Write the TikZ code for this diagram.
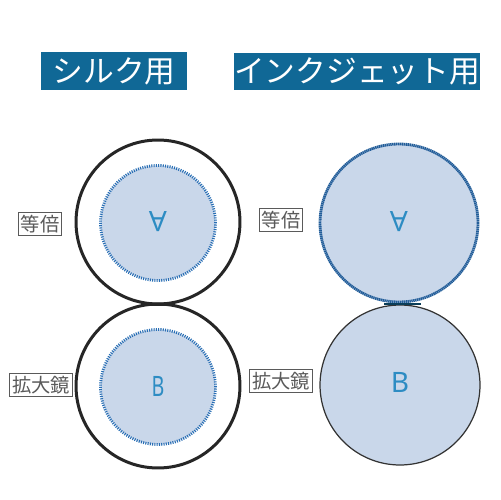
\documentclass[tikz,border=0pt]{standalone}
\usepackage{fontspec}
\newfontfamily\jpfont{Noto Sans CJK JP}
\newfontfamily\latinsans{Noto Sans}
\definecolor{hdrblue}{RGB}{16,104,150}
\definecolor{fillblue}{RGB}{201,215,234}
\definecolor{dotblue}{RGB}{40,110,180}
\definecolor{letterblue}{RGB}{45,140,195}
\definecolor{lblgray}{RGB}{90,90,90}
\begin{document}
\begin{tikzpicture}[x={(0.02cm,0)},y={(0,-0.02cm)},
  header/.style={fill=hdrblue,text=white,font=\jpfont\fontsize{17.5}{17.5}\selectfont,inner sep=0pt,anchor=center},
  lbl/.style={draw=lblgray,line width=0.6pt,fill=white,text=lblgray,font=\jpfont\fontsize{11}{11}\selectfont,inner xsep=1.5pt,inner ysep=1.5pt},
  outer/.style={circle,draw=black!85,line width=0.06cm,inner sep=0pt,minimum size=3.28cm},
  inner/.style={circle,fill=fillblue,draw=dotblue,line width=1.6pt,dash pattern=on 0.6pt off 0.7pt,inner sep=0pt,minimum size=2.3cm},
  bigtop/.style={circle,fill=fillblue,draw=dotblue!85!black,line width=1.6pt,dash pattern=on 0.8pt off 0.3pt,inner sep=0pt,minimum size=3.16cm},
  bigbot/.style={circle,fill=fillblue,draw=black!80,line width=0.7pt,inner sep=0pt,minimum size=3.2cm},
  letter/.style={text=letterblue,font=\latinsans\fontsize{16}{16}\selectfont,inner sep=0pt},
  bridge/.style={line width=0.06cm,draw=black!85}]
\useasboundingbox (0,0) rectangle (500,500);
% headers
\node[header,minimum width=2.94cm,minimum height=0.76cm] (h1) at (114,71) {シルク用};
\node[header,minimum width=4.56cm,minimum height=0.74cm] (h2) at (357,71.5) {インクジェット用};
% left column
\node[outer] (lo1) at (158,222) {};
\node[outer] (lo2) at (158,386) {};
\node[inner] (li1) at (158,223) {};
\node[inner] (li2) at (158,387) {};
\node[letter,rotate=180] (la) at (158,222) {A};
\node[letter,xscale=0.7] (lb) at (158,386) {B};
\coordinate (lbr1) at (142,304);
\coordinate (lbr2) at (174,304);
\draw[bridge] (lbr1) -- (lbr2);
% right column
\node[bigbot] (rb) at (400,385) {};
\node[bigtop] (rt) at (399,223) {};
\node[letter,rotate=180] (ra) at (399,222) {A};
\node[letter] (rbl) at (400,382) {B};
\coordinate (rbr1) at (384,304);
\coordinate (rbr2) at (421,304);
\draw[line width=0.05cm,draw=hdrblue!60!black] (rbr1) -- (rbr2);
% labels
\node[lbl] (l1) at (40,224) {等倍};
\node[lbl] (l2) at (41,385) {拡大鏡};
\node[lbl] (l3) at (281,220) {等倍};
\node[lbl] (l4) at (281,381) {拡大鏡};
\end{tikzpicture}
\end{document}
